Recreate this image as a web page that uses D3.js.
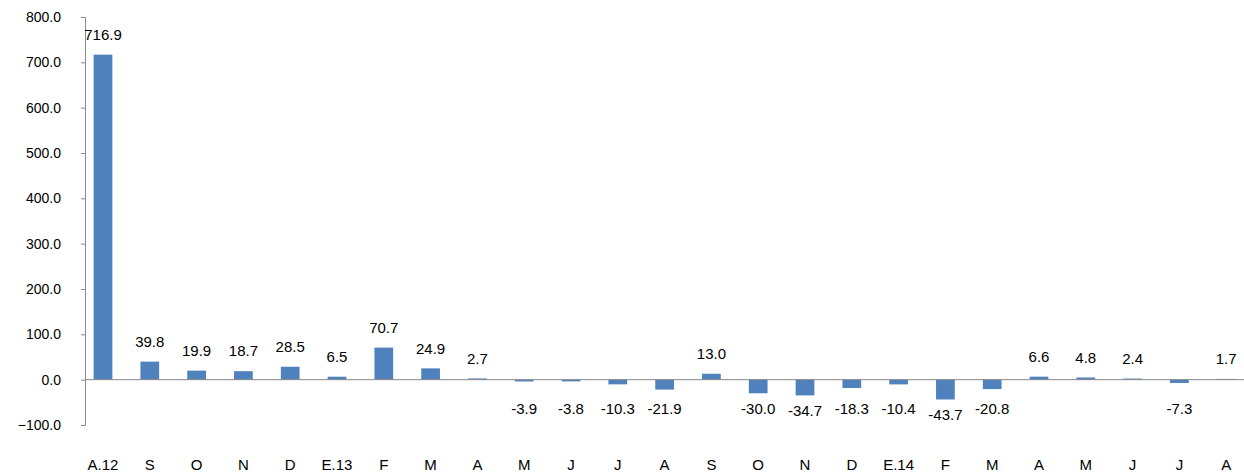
<!DOCTYPE html>
<html><head><meta charset="utf-8">
<script src="https://cdn.jsdelivr.net/npm/d3@7"></script>
<style>body{margin:0;background:#fff}text{font-family:"Liberation Sans",Arial,sans-serif;font-size:14px;fill:#000}</style>
</head><body><div id="chart"></div>
<script>
var categories = ["A.12","S","O","N","D","E.13","F","M","A","M","J","J","A","S","O","N","D","E.14","F","M","A","M","J","J","A"];
var values = [716.9,39.8,19.9,18.7,28.5,6.5,70.7,24.9,2.7,-3.9,-3.8,-10.3,-21.9,13.0,-30.0,-34.7,-18.3,-10.4,-43.7,-20.8,6.6,4.8,2.4,-7.3,1.7];
var yTicks = [-100,0,100,200,300,400,500,600,700,800];

var width = 1244, height = 473;
var svg = d3.select("#chart").append("svg").attr("width", width).attr("height", height);

var x = d3.scaleBand().domain(d3.range(categories.length)).range([79.6, 1249.6]).paddingInner(0.6).paddingOuter(0.3);
var y = d3.scaleLinear().domain([-100, 800]).range([425, 17]);

// y axis
var yAxis = svg.append("g").attr("transform", "translate(85,0)")
  .call(d3.axisLeft(y).tickValues(yTicks).tickFormat(d3.format(".1f")).tickSize(4));
yAxis.select(".domain").attr("stroke", "#888");
yAxis.selectAll(".tick line").attr("stroke", "#888");
yAxis.selectAll("text").attr("x", -24).style("font-size", "14px").style("font-family", "Liberation Sans, Arial");

// bars
svg.append("g").selectAll("rect").data(values).enter().append("rect")
  .attr("x", function (d, i) { return x(i); })
  .attr("width", x.bandwidth())
  .attr("y", function (d) { return y(Math.max(0, d)); })
  .attr("height", function (d) { return Math.abs(y(d) - y(0)); })
  .attr("fill", "#4f81bd");

// zero line
svg.append("line").attr("x1", 85).attr("x2", 1244).attr("y1", y(0)).attr("y2", y(0)).attr("stroke", "#888");

// value labels
svg.append("g").selectAll("text").data(values).enter().append("text")
  .attr("x", function (d, i) { return x(i) + x.bandwidth() / 2; })
  .attr("y", function (d) { return d >= 0 ? y(d) - 20 : Math.max(y(d) + 15, 409); })
  .attr("dy", "0.35em").attr("text-anchor", "middle")
  .style("font-size", "15px")
  .text(function (d) { return d.toFixed(1); });

// category labels
svg.append("g").selectAll("text").data(categories).enter().append("text")
  .attr("x", function (d, i) { return x(i) + x.bandwidth() / 2; })
  .attr("y", 465).attr("dy", "0.35em").attr("text-anchor", "middle")
  .style("font-size", "15px")
  .text(function (d) { return d; });
</script></body></html>
